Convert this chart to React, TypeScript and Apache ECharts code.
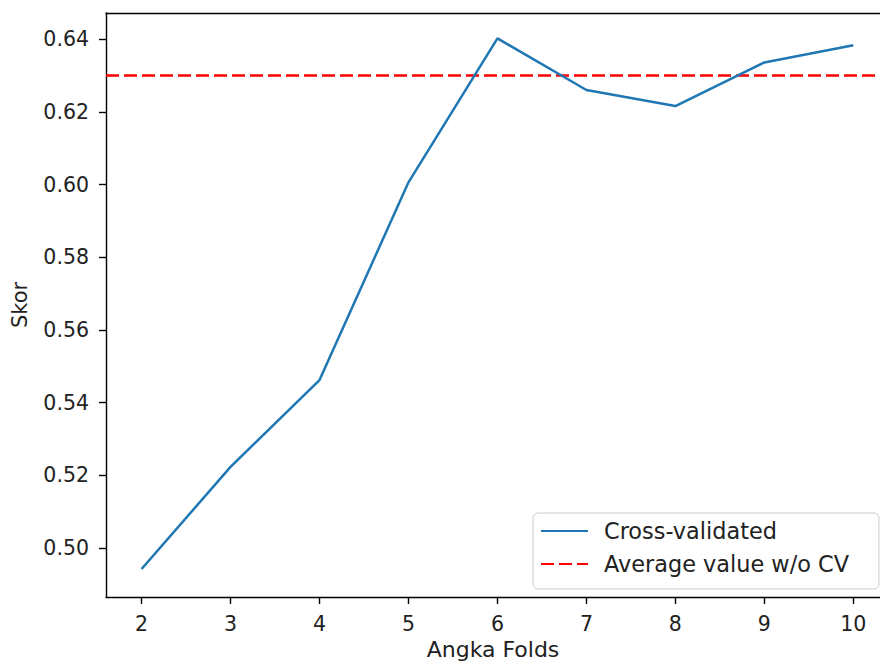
import React, { useEffect, useRef } from "react";
import * as echarts from "echarts";

const folds = [2, 3, 4, 5, 6, 7, 8, 9, 10];
const scores = [0.4942, 0.5223, 0.5462, 0.6006, 0.6402, 0.626, 0.6216, 0.6336, 0.6383];
const averageNoCV = 0.63;
const xTicks = [2, 3, 4, 5, 6, 7, 8, 9, 10];
const yTicks = [0.5, 0.52, 0.54, 0.56, 0.58, 0.6, 0.62, 0.64];
const xMin = 1.6;
const xMax = 10.3;
const yMin = 0.4865;
const yMax = 0.6472;

const FONT = "DejaVu Sans";

export default function App() {
  const ref = useRef<HTMLDivElement>(null);
  useEffect(() => {
    if (!ref.current) return;
    const chart = echarts.init(ref.current, undefined, { renderer: "svg" });
    const axisLineStyle = { color: "#000", width: 1.4 };
    chart.setOption({
      animation: false,
      backgroundColor: "#ffffff",
      grid: {
        left: 106,
        top: 13,
        bottom: 64,
        right: 0,
        show: false,
        containLabel: false,
        outerBoundsMode: "none",
      },
      xAxis: [
        {
          type: "value",
          min: xMin,
          max: xMax,
          name: "Angka Folds",
          nameLocation: "middle",
          nameGap: 50,
          nameTextStyle: { fontFamily: FONT, fontSize: 22, color: "#222", verticalAlign: "middle" },
          axisLine: { show: true, lineStyle: axisLineStyle },
          axisTick: { show: true, length: 7, customValues: xTicks, lineStyle: axisLineStyle },
          axisLabel: {
            customValues: xTicks,
            margin: 16,
            fontFamily: FONT,
            fontSize: 20.5,
            color: "#222",
          },
          splitLine: { show: false },
        },
        {
          type: "value",
          position: "top",
          min: xMin,
          max: xMax,
          axisLine: { show: true, lineStyle: axisLineStyle },
          axisTick: { show: false },
          axisLabel: { show: false },
          splitLine: { show: false },
        },
      ],
      yAxis: {
        type: "value",
        min: yMin,
        max: yMax,
        name: "Skor",
        nameLocation: "middle",
        nameGap: 86,
        nameRotate: 90,
        nameTextStyle: { fontFamily: FONT, fontSize: 21, color: "#222", verticalAlign: "middle" },
        axisLine: { show: true, lineStyle: axisLineStyle },
        axisTick: { show: true, length: 7, customValues: yTicks, lineStyle: axisLineStyle },
        axisLabel: {
          customValues: yTicks,
          margin: 17,
          fontFamily: FONT,
          fontSize: 20.5,
          color: "#222",
          formatter: (v: number) => v.toFixed(2),
        },
        splitLine: { show: false },
      },
      legend: {
        orient: "vertical",
        left: 533,
        top: 513,
        padding: [7, 30, 14, 7],
        itemGap: 11,
        itemWidth: 47,
        itemHeight: 14,
        backgroundColor: "rgba(255,255,255,0.8)",
        borderColor: "#cccccc",
        borderWidth: 1,
        borderRadius: 5,
        itemStyle: { opacity: 0 },
        textStyle: { fontFamily: FONT, fontSize: 22.4, color: "#222", padding: [0, 0, 0, 11] },
        data: ["Cross-validated", "Average value w/o CV"],
      },
      series: [
        {
          name: "Cross-validated",
          type: "line",
          xAxisIndex: 0,
          data: folds.map((f, i) => [f, scores[i]]),
          symbol: "none",
          showSymbol: false,
          lineStyle: { color: "#1f77b4", width: 2.5 },
          itemStyle: { color: "#1f77b4" },
          z: 3,
        },
        {
          name: "Average value w/o CV",
          type: "line",
          xAxisIndex: 0,
          data: [
            [xMin, averageNoCV],
            [xMax, averageNoCV],
          ],
          symbol: "none",
          showSymbol: false,
          lineStyle: { color: "#ff0000", width: 2.5, type: [13, 5] },
          itemStyle: { color: "#ff0000" },
          z: 2,
        },
      ],
    });
    return () => chart.dispose();
  }, []);
  return (
    <div
      ref={ref}
      style={{ position: "fixed", left: 0, top: 0, width: 880, height: 661 }}
    />
  );
}
